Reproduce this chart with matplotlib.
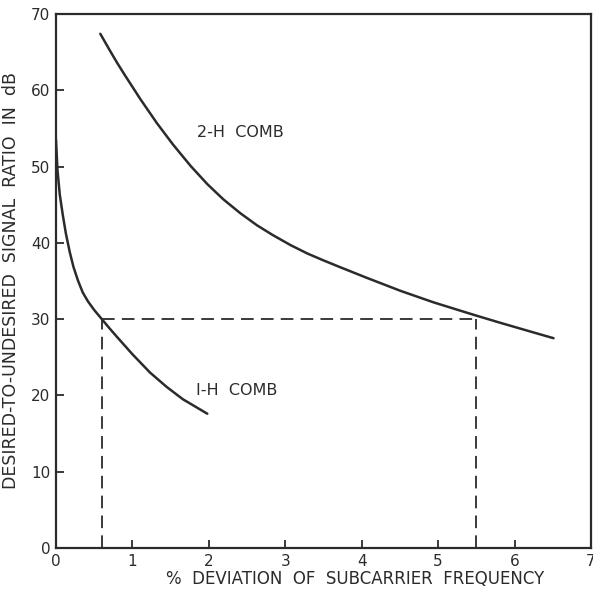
#!/usr/bin/env python
# -*- coding: utf-8 -*-
"""Desired-to-undesired signal ratio vs. subcarrier deviation for 1-H and 2-H combs."""

import matplotlib
matplotlib.use('Agg')
import matplotlib.pyplot as plt

# 2-H comb curve
COMB2_X = [0.58, 0.70, 0.80, 0.90, 1.01, 1.10, 1.32, 1.53, 1.76, 1.98, 2.19,
           2.41, 2.63, 2.84, 3.07, 3.29, 3.50, 3.72, 4.07, 4.51, 4.94, 5.39,
           5.52, 5.82, 6.25, 6.51]
COMB2_Y = [67.4, 65.3, 63.6, 62.0, 60.3, 58.9, 55.7, 52.9, 50.1, 47.7, 45.7,
           43.9, 42.3, 41.0, 39.7, 38.6, 37.7, 36.8, 35.4, 33.7, 32.2, 30.8,
           30.4, 29.5, 28.25, 27.5]

# 1-H comb curve
COMB1_X = [0.00, 0.02, 0.05, 0.09, 0.13, 0.18, 0.23, 0.29, 0.35, 0.42, 0.50,
           0.60, 0.70, 0.80, 1.00, 1.23, 1.45, 1.66, 1.98]
COMB1_Y = [53.5, 49.5, 46.3, 43.6, 41.2, 38.8, 36.8, 35.0, 33.5, 32.3, 31.2,
           30.0, 28.8, 27.65, 25.4, 23.0, 21.1, 19.5, 17.6]

# dashed construction lines
MARK_X = [0.6, 5.5]
MARK_Y = 30

X_TICKS = [0, 1, 2, 3, 4, 5, 6, 7]
Y_TICKS = [0, 10, 20, 30, 40, 50, 60, 70]

INK = '#2b2b2b'

plt.rcParams['font.family'] = ['DejaVu Sans']

fig = plt.figure(figsize=(5.93, 5.90), dpi=100)
ax = fig.add_axes([0.0944, 0.0712, 0.9022, 0.9051])

ax.plot(COMB2_X, COMB2_Y, color=INK, lw=1.8, solid_capstyle='round')
ax.plot(COMB1_X, COMB1_Y, color=INK, lw=1.8, solid_capstyle='round')

dash = dict(color=INK, lw=1.3, dashes=(7, 4))
ax.plot([MARK_X[0], MARK_X[1]], [MARK_Y, MARK_Y], **dash)
for mx in MARK_X:
    ax.plot([mx, mx], [0, MARK_Y], **dash)

ax.text(2.41, 54.5, '2-H  COMB', color=INK, fontsize=11.5, ha='center', va='center')
ax.text(2.37, 20.7, 'I-H  COMB', color=INK, fontsize=11.5, ha='center', va='center')

ax.set_xlim(0, 7)
ax.set_ylim(0, 70)
ax.set_xticks(X_TICKS)
ax.set_yticks(Y_TICKS)
ax.tick_params(direction='in', length=6, width=1.3, color=INK, labelcolor=INK,
               labelsize=11, pad=4)
for s in ax.spines.values():
    s.set_color(INK)
    s.set_linewidth(1.6)

ax.set_xlabel('%  DEVIATION  OF  SUBCARRIER  FREQUENCY', color=INK, fontsize=12)
ax.xaxis.set_label_coords(0.559, -0.041)
ax.set_ylabel('DESIRED-TO-UNDESIRED  SIGNAL  RATIO  IN  dB', color=INK, fontsize=12.5)
ax.yaxis.set_label_coords(-0.067, 0.5)

plt.savefig('out.png')
plt.close()
